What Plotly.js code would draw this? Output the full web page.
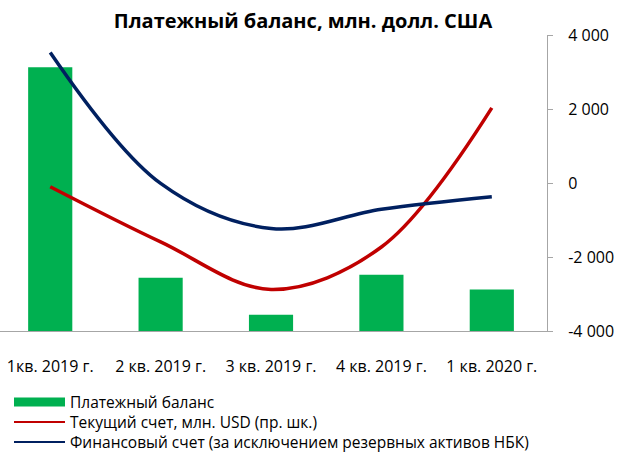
<!DOCTYPE html>
<html>
<head>
<meta charset="utf-8">
<script src="https://cdn.plot.ly/plotly-3.0.1.min.js"></script>
<style>html,body{margin:0;padding:0;background:#fff;}#chart{width:619px;height:452px;}</style>
</head>
<body>
<div id="chart"></div>
<script>
// Categories (quarters)
const categories = ["1кв. 2019 г.", "2 кв. 2019 г.", "3 кв. 2019 г.", "4 кв. 2019 г.", "1 кв. 2020 г."];
// Платежный баланс (bars, hidden left axis, read as height above the axis floor)
const balanceValues = [7130, 1440, 440, 1520, 1125];
// Текущий счет, млн. USD (right axis)
const currentAccount = [-100, -1590, -2875, -1730, 2030];
// Финансовый счет (за исключением резервных активов НБК) (right axis)
const financialAccount = [3530, -10, -1230, -710, -370];
// Right axis ticks
const rightTickVals = [-4000, -2000, 0, 2000, 4000];
const rightTickText = ["-4 000", "-2 000", "0", "2 000", "4 000"];

const seriesNames = ["Платежный баланс", "Текущий счет, млн. USD (пр. шк.)", "Финансовый счет (за исключением резервных активов НБК)"];
const colors = ["#00B050", "#C00000", "#002060"];
const FONT = "Open Sans, Noto Sans, sans-serif";

const traces = [
  {type: "bar", x: categories, y: balanceValues, yaxis: "y", marker: {color: colors[0]},
   width: 0.4, name: seriesNames[0], showlegend: false, hoverinfo: "skip"},
  {type: "scatter", mode: "lines", x: categories, y: currentAccount, yaxis: "y2",
   line: {color: colors[1], width: 3.5, shape: "spline", smoothing: 1}, name: seriesNames[1], showlegend: false},
  {type: "scatter", mode: "lines", x: categories, y: financialAccount, yaxis: "y2",
   line: {color: colors[2], width: 3.5, shape: "spline", smoothing: 1}, name: seriesNames[2], showlegend: false},
  // legend entries (no drawn data)
  {type: "scatter", mode: "lines", x: [categories[0]], y: [null], yaxis: "y2", line: {color: colors[0], width: 9}, name: seriesNames[0], legend: "legend", hoverinfo: "skip"},
  {type: "scatter", mode: "lines", x: [categories[0]], y: [null], yaxis: "y2", line: {color: colors[1], width: 2}, name: seriesNames[1], legend: "legend2", hoverinfo: "skip"},
  {type: "scatter", mode: "lines", x: [categories[0]], y: [null], yaxis: "y2", line: {color: colors[2], width: 2}, name: seriesNames[2], legend: "legend3", hoverinfo: "skip"}
];

function legendAt(yc) {
  return {x: 9/619, xref: "container", y: 1 - yc/452, yref: "container", xanchor: "left", yanchor: "middle",
          orientation: "v", itemwidth: 51, font: {family: FONT, size: 15.5, color: "#000"},
          tracegroupgap: 0, bgcolor: "rgba(0,0,0,0)"};
}

const layout = {
  width: 619, height: 452,
  margin: {l: 0, r: 72, t: 35, b: 121, autoexpand: false},
  paper_bgcolor: "#fff", plot_bgcolor: "rgba(0,0,0,0)",
  font: {family: FONT, color: "#000", size: 14},
  title: {text: "<b>Платежный баланс, млн. долл. США</b>", font: {family: FONT, size: 20, color: "#000"},
          x: 0.4895, xref: "container", xanchor: "center", y: 1 - 21/452, yref: "container", yanchor: "middle"},
  showlegend: true,
  legend: legendAt(402.5),
  legend2: legendAt(422.5),
  legend3: legendAt(442.5),
  xaxis: {type: "category", range: [-0.455, 4.5], showline: true, linecolor: "#a6a6a6", linewidth: 1,
          ticks: "", showgrid: false, zeroline: false, tickangle: 0, tickfont: {family: FONT, size: 16, color: "#000"},
          ticklabelstandoff: 21, fixedrange: true},
  yaxis: {range: [0, 8000], visible: false, showgrid: false, zeroline: false, fixedrange: true},
  yaxis2: {overlaying: "y", side: "right", range: [-4000, 4000], tickvals: rightTickVals, ticktext: rightTickText,
           showline: true, linecolor: "#a6a6a6", linewidth: 1, ticks: "outside", ticklen: 5, tickcolor: "#a6a6a6",
           showgrid: false, zeroline: false, tickfont: {family: FONT, size: 16, color: "#000"}, ticklabelstandoff: 12,
           fixedrange: true}
};

Plotly.newPlot("chart", traces, layout, {displayModeBar: false, staticPlot: true});
</script>
</body>
</html>
